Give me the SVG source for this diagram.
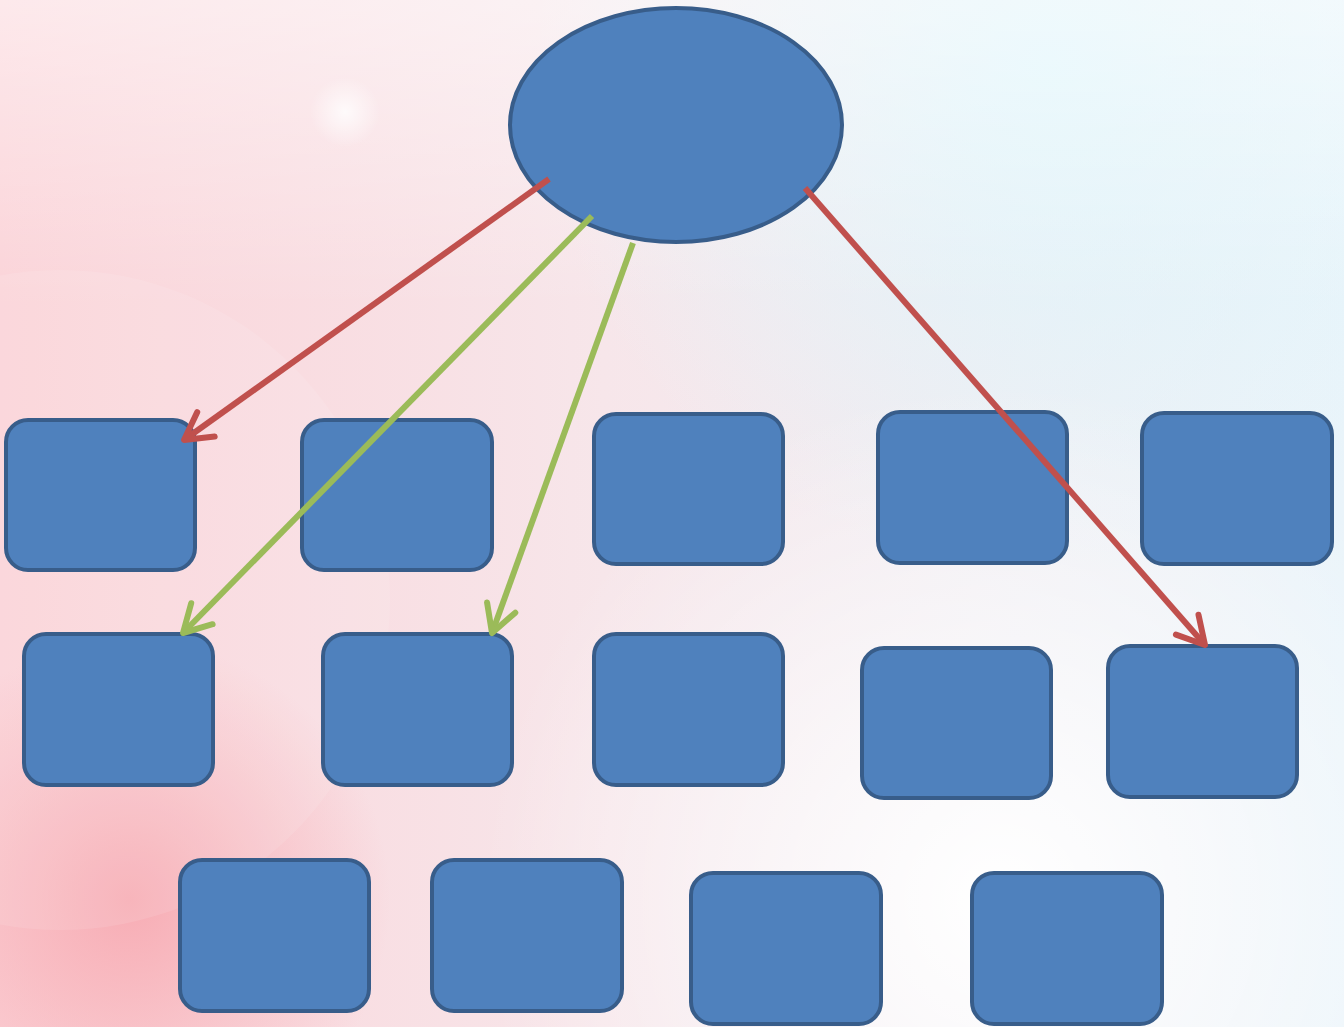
<svg xmlns="http://www.w3.org/2000/svg" width="1344" height="1027" viewBox="0 0 1344 1027">
<defs>
<linearGradient id="bg" x1="0" y1="0" x2="1" y2="0">
<stop offset="0" stop-color="#fbd3d8"/>
<stop offset="0.45" stop-color="#f7e6ea"/>
<stop offset="1" stop-color="#eaf4fa"/>
</linearGradient>
<linearGradient id="topwhite" x1="0" y1="0" x2="0" y2="1">
<stop offset="0" stop-color="#ffffff" stop-opacity="0.5"/>
<stop offset="0.3" stop-color="#ffffff" stop-opacity="0"/>
</linearGradient>
<radialGradient id="cyan" cx="1050" cy="60" r="520" gradientUnits="userSpaceOnUse">
<stop offset="0" stop-color="#dff5fb" stop-opacity="1"/>
<stop offset="1" stop-color="#dff5fb" stop-opacity="0"/>
</radialGradient>
<radialGradient id="white" cx="1000" cy="900" r="520" gradientUnits="userSpaceOnUse">
<stop offset="0" stop-color="#ffffff" stop-opacity="1"/>
<stop offset="1" stop-color="#ffffff" stop-opacity="0"/>
</radialGradient>
<radialGradient id="pinkblob" cx="130" cy="900" r="260" gradientUnits="userSpaceOnUse">
<stop offset="0" stop-color="#f7a8b0" stop-opacity="0.9"/>
<stop offset="1" stop-color="#f7a8b0" stop-opacity="0"/>
</radialGradient>
<radialGradient id="glow" cx="345" cy="112" r="35" gradientUnits="userSpaceOnUse">
<stop offset="0" stop-color="#ffffff" stop-opacity="0.8"/>
<stop offset="1" stop-color="#ffffff" stop-opacity="0"/>
</radialGradient>
<marker id="ar" markerUnits="userSpaceOnUse" markerWidth="60" markerHeight="60" viewBox="-40 -30 60 60" refX="0" refY="0" orient="auto" overflow="visible">
<path d="M-27,-15 L0,0 L-27,15" fill="none" stroke="#c0504d" stroke-width="6" stroke-linecap="round" stroke-linejoin="round"/>
</marker>
<marker id="ag" markerUnits="userSpaceOnUse" markerWidth="60" markerHeight="60" viewBox="-40 -30 60 60" refX="0" refY="0" orient="auto" overflow="visible">
<path d="M-27,-15 L0,0 L-27,15" fill="none" stroke="#9bbb59" stroke-width="6" stroke-linecap="round" stroke-linejoin="round"/>
</marker>
</defs>
<style>
.box{fill:#4f81bd;stroke:#385d8a;stroke-width:4}
.red{stroke:#c0504d;stroke-width:6;fill:none;marker-end:url(#ar)}
.grn{stroke:#9bbb59;stroke-width:6;fill:none;marker-end:url(#ag)}
</style>
<g id="background">
<rect x="0" y="0" width="1344" height="1027" fill="url(#bg)"/>
<rect x="0" y="0" width="1344" height="1027" fill="url(#cyan)"/>
<rect x="0" y="0" width="1344" height="1027" fill="url(#white)"/>
<rect x="0" y="0" width="1344" height="1027" fill="url(#topwhite)"/>
<rect x="0" y="0" width="1344" height="1027" fill="url(#pinkblob)"/>
<circle cx="60" cy="600" r="330" fill="#ffffff" opacity="0.1"/>
<circle cx="345" cy="112" r="35" fill="url(#glow)"/>
</g>
<g id="root"><ellipse class="box" cx="676" cy="125" rx="166" ry="117"/></g>
<g id="n1"><rect class="box" x="6" y="420" width="189" height="150" rx="22"/></g>
<g id="n2"><rect class="box" x="302" y="420" width="190" height="150" rx="22"/></g>
<g id="n3"><rect class="box" x="594" y="414" width="189" height="150" rx="22"/></g>
<g id="n4"><rect class="box" x="878" y="412" width="189" height="151" rx="22"/></g>
<g id="n5"><rect class="box" x="1142" y="413" width="190" height="151" rx="22"/></g>
<g id="n6"><rect class="box" x="24" y="634" width="189" height="151" rx="22"/></g>
<g id="n7"><rect class="box" x="323" y="634" width="189" height="151" rx="22"/></g>
<g id="n8"><rect class="box" x="594" y="634" width="189" height="151" rx="22"/></g>
<g id="n9"><rect class="box" x="862" y="648" width="189" height="150" rx="22"/></g>
<g id="n10"><rect class="box" x="1108" y="646" width="189" height="151" rx="22"/></g>
<g id="n11"><rect class="box" x="180" y="860" width="189" height="151" rx="22"/></g>
<g id="n12"><rect class="box" x="432" y="860" width="190" height="151" rx="22"/></g>
<g id="n13"><rect class="box" x="691" y="873" width="190" height="151" rx="22"/></g>
<g id="n14"><rect class="box" x="972" y="873" width="190" height="151" rx="22"/></g>
<g id="connectors">
<line class="red" x1="549" y1="179" x2="184" y2="440"/>
<line class="grn" x1="592" y1="216" x2="183" y2="633"/>
<line class="grn" x1="633" y1="243" x2="492" y2="633"/>
<line class="red" x1="805" y1="188" x2="1205" y2="645"/>
</g>
</svg>
